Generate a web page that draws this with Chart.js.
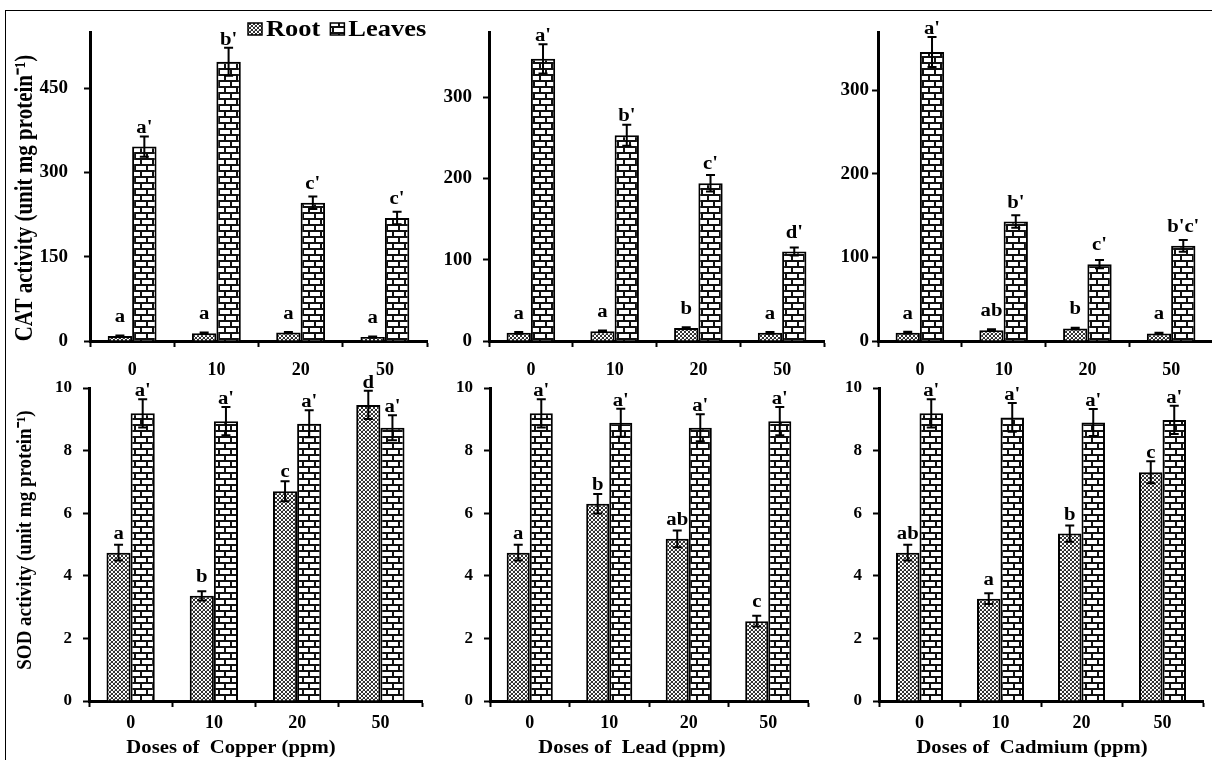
<!DOCTYPE html>
<html>
<head>
<meta charset="utf-8">
<script src="https://cdn.jsdelivr.net/npm/chart.js@4.4.1/dist/chart.umd.min.js"></script>
<style>
html, body { margin: 0; padding: 0; background: #fff; overflow: hidden; width: 1212px; height: 760px; }
#fig { position: relative; width: 1212px; height: 760px; overflow: hidden; }
#frame { position: absolute; left: 5px; top: 10px; width: 1300px; height: 800px; border-left: 1.5px solid #000; border-top: 1.5px solid #000; }
canvas { position: absolute; }
</style>
</head>
<body>
<div id="fig"><div id="frame"></div></div>
<script>
// categories
const doses = ["0", "10", "20", "50"];
const metals = ["Copper", "Lead", "Cadmium"];
const seriesNames = ["Root", "Leaves"];

// CAT activity (unit mg protein-1)
const catRootCu = [9, 14, 15, 7];
const catRootCuErr = [1, 1, 1, 1];
const catRootCuSig = ["a", "a", "a", "a"];
const catLeafCu = [346, 497, 246, 219];
const catLeafCuErr = [18, 25, 11, 11];
const catLeafCuSig = ["a'", "b'", "c'", "c'"];

const catRootPb = [10, 12, 16, 10];
const catRootPbErr = [1, 1, 1, 1];
const catRootPbSig = ["a", "a", "b", "a"];
const catLeafPb = [347, 253, 194, 110];
const catLeafPbErr = [18, 13, 10, 5];
const catLeafPbSig = ["a'", "b'", "c'", "d'"];

const catRootCd = [10, 13, 15, 9];
const catRootCdErr = [1, 1, 1, 1];
const catRootCdSig = ["a", "ab", "b", "a"];
const catLeafCd = [346, 143, 92, 114];
const catLeafCdErr = [18, 7.5, 5, 7];
const catLeafCdSig = ["a'", "b'", "c'", "b'c'"];

// SOD activity (unit mg protein-1)
const sodRootCu = [4.74, 3.36, 6.70, 9.46];
const sodRootCuErr = [0.25, 0.15, 0.32, 0.45];
const sodRootCuSig = ["a", "b", "c", "d"];
const sodLeafCu = [9.19, 8.94, 8.86, 8.73];
const sodLeafCuErr = [0.45, 0.45, 0.43, 0.40];
const sodLeafCuSig = ["a'", "a'", "a'", "a'"];

const sodRootPb = [4.74, 6.30, 5.18, 2.55];
const sodRootPbErr = [0.25, 0.31, 0.27, 0.17];
const sodRootPbSig = ["a", "b", "ab", "c"];
const sodLeafPb = [9.19, 8.89, 8.73, 8.94];
const sodLeafPbErr = [0.45, 0.45, 0.43, 0.45];
const sodLeafPbSig = ["a'", "a'", "a'", "a'"];

const sodRootCd = [4.74, 3.27, 5.35, 7.31];
const sodRootCdErr = [0.25, 0.17, 0.26, 0.35];
const sodRootCdSig = ["ab", "a", "b", "c"];
const sodLeafCd = [9.19, 9.06, 8.90, 8.98];
const sodLeafCdErr = [0.45, 0.46, 0.43, 0.45];
const sodLeafCdSig = ["a'", "a'", "a'", "a'"];

// axis ranges
const catMax = [550, 380, 370];
const catStep = [150, 100, 100];
const sodMax = 10;
const sodStep = 2;

const SERIF = '"Liberation Serif", "Times New Roman", serif';
const TX = 1.15; // the original figure is a bit wider than tall

function brickPattern() {
    const c = document.createElement("canvas");
    c.width = 12; c.height = 12;
    const g = c.getContext("2d");
    g.fillStyle = "#fff";
    g.fillRect(0, 0, 12, 12);
    g.fillStyle = "#111";
    g.fillRect(0, 0, 12, 2);
    g.fillRect(0, 6, 12, 2);
    g.fillRect(0, 2, 2, 4);
    g.fillRect(6, 8, 2, 4);
    return g.createPattern(c, "repeat");
}

function dotPattern() {
    const c = document.createElement("canvas");
    c.width = 4; c.height = 4;
    const g = c.getContext("2d");
    g.fillStyle = "#fff";
    g.fillRect(0, 0, 4, 4);
    for (let x = 0; x < 4; x++) {
        for (let y = 0; y < 4; y++) {
            if (x === y || x + y === 3) {
                g.fillStyle = "#333";
                g.fillRect(x, y, 1, 1);
            }
        }
    }
    g.fillStyle = "#bbb";
    g.fillRect(2, 0, 1, 1);
    return g.createPattern(c, "repeat");
}

const rootFill = dotPattern();
const leafFill = brickPattern();

function stretchedText(ctx, text, x, y, align) {
    ctx.save();
    ctx.translate(x, y);
    ctx.scale(TX, 1);
    ctx.textAlign = align || "center";
    ctx.fillText(text, 0, 0);
    ctx.restore();
}

// error bars + significance letters
const errorBars = {
    id: "errorBars",
    afterDatasetsDraw(chart) {
        const ctx = chart.ctx;
        const y = chart.scales.y;
        ctx.save();
        ctx.strokeStyle = "#000";
        ctx.fillStyle = "#000";
        ctx.lineWidth = 2;
        ctx.font = "bold 18px " + SERIF;
        ctx.textBaseline = "alphabetic";
        chart.data.datasets.forEach(function (ds, di) {
            const meta = chart.getDatasetMeta(di);
            meta.data.forEach(function (bar, i) {
                const v = ds.data[i];
                const e = ds.errors[i];
                const top = y.getPixelForValue(v + e);
                const bot = y.getPixelForValue(v - e);
                ctx.beginPath();
                ctx.moveTo(bar.x, top); ctx.lineTo(bar.x, bot);
                ctx.moveTo(bar.x - 4.5, top); ctx.lineTo(bar.x + 4.5, top);
                ctx.moveTo(bar.x - 4.5, bot); ctx.lineTo(bar.x + 4.5, bot);
                ctx.stroke();
                const ly = Math.min(top - 3, bar.y - 14);
                stretchedText(ctx, ds.letters[i], bar.x, ly, "center");
            });
        });
        ctx.restore();
    }
};

// axis titles and the legend
const panelText = {
    id: "panelText",
    afterDraw(chart, args, o) {
        const ctx = chart.ctx;
        ctx.save();
        ctx.fillStyle = "#000";
        ctx.textBaseline = "middle";
        if (o.xTitle) {
            ctx.font = "bold 18px " + SERIF;
            stretchedText(ctx, o.xTitle, o.xTitleX - o.ox, o.xTitleY - o.oy, "center");
        }
        if (o.yTitle) {
            ctx.font = "bold " + o.yTitleSize + "px " + SERIF;
            ctx.save();
            ctx.translate(o.yTitleX - o.ox, o.yTitleY - o.oy);
            ctx.rotate(-Math.PI / 2);
            ctx.scale(1, TX);
            ctx.textAlign = "center";
            ctx.fillText(o.yTitle, 0, 0);
            ctx.restore();
        }
        if (o.legend) {
            ctx.font = "bold 23px " + SERIF;
            ctx.textBaseline = "alphabetic";
            let x = o.legendX - o.ox;
            const yb = o.legendY - o.oy;
            chart.data.datasets.forEach(function (ds) {
                ctx.fillStyle = ds.backgroundColor;
                ctx.fillRect(x, yb - 13, 14, 12);
                ctx.strokeStyle = "#000";
                ctx.lineWidth = 1.5;
                ctx.strokeRect(x, yb - 13, 14, 12);
                ctx.fillStyle = "#000";
                stretchedText(ctx, ds.label, x + 18, yb, "left");
                x += 18 + ctx.measureText(ds.label).width * TX + 10;
            });
        }
        ctx.restore();
    }
};

// page placement of each plot area
const layout = [
    { l: 90, r: 427, t: 32, b: 341, yw: 82, yPad: 16, bottom: 384 },
    { l: 489, r: 824, t: 32, b: 341, yw: 58, yPad: 11, bottom: 384 },
    { l: 878, r: 1213, t: 32, b: 341, yw: 58, yPad: 3, bottom: 384 },
    { l: 89, r: 422, t: 388, b: 701, yw: 81, yPad: 11, bottom: 760 },
    { l: 490, r: 808, t: 388, b: 701, yw: 58, yPad: 11, bottom: 760 },
    { l: 879, r: 1203, t: 388, b: 701, yw: 58, yPad: 11, bottom: 760 }
];
const xTitleX = [231, 632, 1032];

const panels = [
    { root: catRootCu, rootErr: catRootCuErr, rootSig: catRootCuSig, leaf: catLeafCu, leafErr: catLeafCuErr, leafSig: catLeafCuSig },
    { root: catRootPb, rootErr: catRootPbErr, rootSig: catRootPbSig, leaf: catLeafPb, leafErr: catLeafPbErr, leafSig: catLeafPbSig },
    { root: catRootCd, rootErr: catRootCdErr, rootSig: catRootCdSig, leaf: catLeafCd, leafErr: catLeafCdErr, leafSig: catLeafCdSig },
    { root: sodRootCu, rootErr: sodRootCuErr, rootSig: sodRootCuSig, leaf: sodLeafCu, leafErr: sodLeafCuErr, leafSig: sodLeafCuSig },
    { root: sodRootPb, rootErr: sodRootPbErr, rootSig: sodRootPbSig, leaf: sodLeafPb, leafErr: sodLeafPbErr, leafSig: sodLeafPbSig },
    { root: sodRootCd, rootErr: sodRootCdErr, rootSig: sodRootCdSig, leaf: sodLeafCd, leafErr: sodLeafCdErr, leafSig: sodLeafCdSig }
];

const fig = document.getElementById("fig");

panels.forEach(function (p, i) {
    const L = layout[i];
    const col = i % 3;
    const isCat = i < 3;
    const left = L.l - L.yw;
    const top = L.t - 30;
    const w = L.r + 4 - left;
    const h = L.bottom - top;
    const xh = h - 30 - (L.b - L.t);

    const cv = document.createElement("canvas");
    cv.width = w;
    cv.height = h;
    cv.style.left = left + "px";
    cv.style.top = top + "px";
    fig.appendChild(cv);

    const step = isCat ? catStep[col] : sodStep;
    const txt = { ox: left, oy: top };
    if (!isCat) {
        txt.xTitle = "Doses of  " + metals[col] + " (ppm)";
        txt.xTitleX = xTitleX[col];
        txt.xTitleY = 748;
    }
    if (col === 0) {
        txt.yTitle = (isCat ? "CAT" : "SOD") + " activity (unit mg protein\u207B\u00B9)";
        txt.yTitleSize = isCat ? 21 : 19;
        txt.yTitleX = isCat ? 26 : 25;
        txt.yTitleY = isCat ? 198 : 540;
    }
    if (i === 0) {
        txt.legend = true;
        txt.legendX = 248;
        txt.legendY = 36;
    }

    const tickFont = { family: SERIF, weight: "bold", size: isCat ? 19 : 17 };

    new Chart(cv, {
        type: "bar",
        data: {
            labels: doses,
            datasets: [{
                label: seriesNames[0],
                data: p.root,
                errors: p.rootErr,
                letters: p.rootSig,
                backgroundColor: rootFill,
                borderColor: "#000",
                borderWidth: 2,
                barPercentage: 1,
                categoryPercentage: 0.58
            }, {
                label: seriesNames[1],
                data: p.leaf,
                errors: p.leafErr,
                letters: p.leafSig,
                backgroundColor: leafFill,
                borderColor: "#000",
                borderWidth: 2,
                barPercentage: 1,
                categoryPercentage: 0.58
            }]
        },
        options: {
            responsive: false,
            animation: false,
            devicePixelRatio: 1,
            layout: { padding: { top: 30, right: 4, left: 0, bottom: 0 } },
            plugins: {
                legend: { display: false },
                tooltip: { enabled: false },
                panelText: txt
            },
            scales: {
                x: {
                    grid: { display: true, drawOnChartArea: false, drawTicks: true, tickLength: 6, tickWidth: 2, tickColor: "#000", offset: true },
                    border: { display: true, width: 3, color: "#000" },
                    ticks: { color: "#000", font: { family: SERIF, weight: "bold", size: 18 }, padding: isCat ? 13 : 6, maxRotation: 0 },
                    afterFit: function (scale) { scale.height = xh; }
                },
                y: {
                    min: 0,
                    max: isCat ? catMax[col] : sodMax,
                    grid: { display: true, drawOnChartArea: false, drawTicks: true, tickLength: 6, tickWidth: 2, tickColor: "#000" },
                    border: { display: true, width: 3, color: "#000" },
                    ticks: { stepSize: step, color: "#000", font: tickFont, padding: L.yPad },
                    afterBuildTicks: function (scale) {
                        scale.ticks = scale.ticks.filter(function (t) { return Math.abs(t.value / step - Math.round(t.value / step)) < 1e-6; });
                    },
                    afterFit: function (scale) { scale.width = L.yw; }
                }
            }
        },
        plugins: [errorBars, panelText]
    });
});
</script>
</body>
</html>
